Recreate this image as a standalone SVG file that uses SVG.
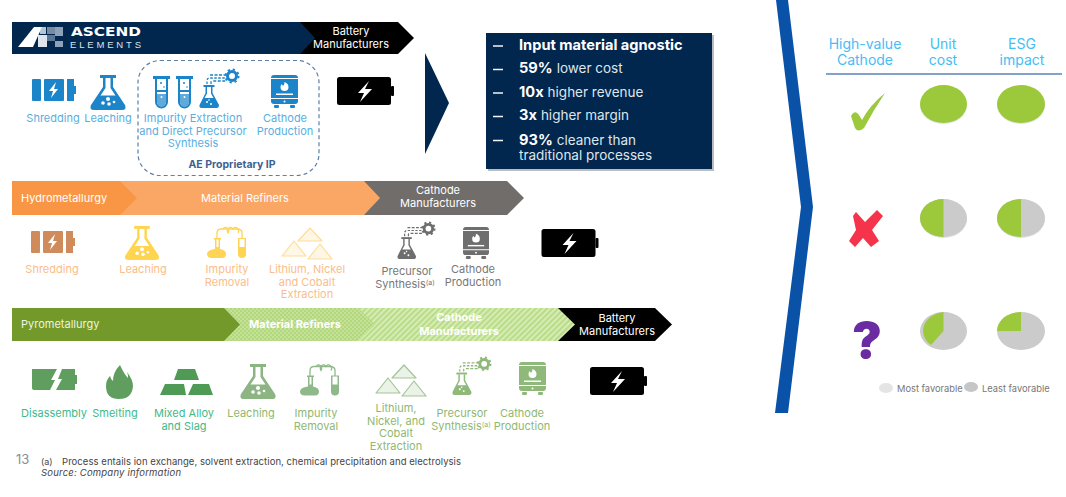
<svg xmlns="http://www.w3.org/2000/svg" width="1066" height="497" viewBox="0 0 1066 497">
<style>
text{font-family:Inter,"Open Sans","Liberation Sans",sans-serif}
.m{text-anchor:middle}
.l{font-size:11px}
.b{fill:#5aaee0}.o{fill:#fbbd8a}.g{fill:#777}.n{fill:#3fb98a}.nb{fill:#8fb870}.w{fill:#fff}
.bt{font-size:11px;fill:#fff;text-anchor:middle}
.k{font-size:14.600px;font-weight:700;fill:#fff}
.t{font-size:13.500px;fill:#dfe5ec}
.h{font-size:14px;fill:#45bdf5;text-anchor:middle}
.d{stroke:#fff;stroke-width:1.6}
.sh{fill:#e2e2e2}.gy{fill:#cbcbcb}.gr{fill:#9bc93b}
</style>
<defs>
<pattern id="dots" width="4" height="4" patternUnits="userSpaceOnUse"><rect width="4" height="4" fill="#b3d87c"/><circle cx="1" cy="1" r=".8" fill="#d9edbb"/><circle cx="3" cy="3" r=".8" fill="#d9edbb"/></pattern>
<pattern id="hatch" width="4" height="4" patternUnits="userSpaceOnUse" patternTransform="rotate(45)"><rect width="4" height="4" fill="#d6ecb4"/><rect width="2" height="4" fill="#b9dc88"/></pattern>
<symbol id="shred" viewBox="0 0 44 22" overflow="visible"><rect x="0" y="0" width="9" height="22" rx="1"/><rect x="12" y="0" width="20" height="22" rx="1"/><path d="M35 0h7v7h2v8h-2v7h-7z"/><path d="M24 3l-7 9h4l-2 7 7-9h-4z" fill="#fff"/></symbol>
<symbol id="flask" viewBox="0 0 36 35" overflow="visible"><rect x="10" y="0" width="16" height="3"/><path d="M13 3h10v9l12 18q2 5-3 5H4q-5 0-3-5l12-18z"/><path d="M15.500 3h5v10l5 7.500H10.500l5-7.500z" fill="#fff"/><circle cx="18" cy="24" r="2" fill="#fff"/><circle cx="13" cy="28" r="1.800" fill="#fff"/><circle cx="19" cy="29" r="1.800" fill="#fff"/><circle cx="24" cy="27" r="1.300" fill="#fff"/></symbol>
<symbol id="tube" viewBox="0 0 17 34" overflow="visible"><rect width="17" height="3"/><path d="M2 3h13v23a6.500 6.500 0 0 1-13 0zM4 3v11h9V3zM4 16v10a4.500 4.500 0 0 0 9 0V16z" fill-rule="evenodd"/><path d="M4 18h9v8a4.500 4.500 0 0 1-9 0z" fill-opacity=".7"/><circle cx="8" cy="7" r="1"/><circle cx="11" cy="11" r=".8"/><circle cx="8.500" cy="21" r="1" fill="#fff"/></symbol>
<symbol id="prec" viewBox="0 0 41 40" overflow="visible"><g fill="none" stroke="currentColor"><path d="M8 16v-3q0-3 3-3h16" stroke-dasharray="2.500 1.500" stroke-width="1.300"/><path d="M12 16v-2q0-1 2-1h13M11 7h16" stroke-dasharray="3 1.500" stroke-width="1.300"/><circle cx="33" cy="8" r="4.500" stroke-width="3"/><circle cx="33" cy="8" r="6.500" stroke-width="2" stroke-dasharray="2.200 2.900"/></g><rect x="4.500" y="17" width="11" height="2"/><path d="M6.500 19h7v6l6.500 12q0 3-2.500 3H2.500Q0 40 .5 37L6.500 25z"/><path d="M8 19h4v6.500l2.500 4.500h-9L8 25.500z" fill="#fff"/><circle cx="8" cy="34" r="1" fill="#fff"/><circle cx="12" cy="36" r="1" fill="#fff"/><circle cx="10" cy="32" r=".8" fill="#fff"/></symbol>
<symbol id="furn" viewBox="0 0 27 33" overflow="visible"><rect x="0" y="0" width="27" height="29" rx="3"/><rect x="3" y="30" width="5" height="3" rx="1"/><rect x="19" y="30" width="5" height="3" rx="1"/><rect x="0" y="3" width="27" height="1" fill="#fff"/><rect x="0" y="23" width="27" height="1" fill="#fff"/><rect x="5" y="18.500" width="17" height="1.500" fill="#fff"/><path d="M13.500 7q4 1.500 4 5a4 4 0 0 1-8 0q0-2 1.500-3 0 2 1.500 1.500 1-1.500 1-3.500z" fill="#fff"/><circle cx="13.500" cy="26.500" r="1" fill="#fff"/></symbol>
<symbol id="batt" viewBox="0 0 57 28" overflow="visible"><rect width="54" height="28" rx="2.500"/><rect x="54" y="9" width="3" height="10" rx="1"/><path d="M32 4L21 16h6l-4 9 12-13h-7z" fill="#fff"/></symbol>
<symbol id="impur" viewBox="0 0 41 32" overflow="visible"><g fill="none" stroke="currentColor" stroke-width="1.300"><path d="M10 12V6q0-4 4-4h16q5 0 5 4v6"/><path d="M16 2a2.500 3 0 0 1 5 4a2.500 3 0 0 1 5-4a2.500 3 0 0 1 5 4"/></g><rect x="7" y="11" width="7" height="1.500"/><path d="M8 12h5v10q6 1 6 5 0 4-4 4H5q-5 0-5-4 0-4 8-5z"/><path d="M9.500 12.500h2V20H9.500z" fill="#fff"/><path d="M31 11h8v16a4 4 0 0 1-8 0z"/><rect x="32.500" y="12" width="5" height="8" fill="#fff"/></symbol>
<symbol id="piles" viewBox="0 0 52 33" overflow="visible"><g fill-opacity=".22" stroke="currentColor" stroke-width="1.200" stroke-linejoin="round"><path d="M29 1l12 13H17z"/><path d="M13 14l12 15H1z"/><path d="M39 17l12 15H27z"/></g></symbol>
</defs>

<g id="band-ascend">
<path d="M300 22H398L414 38 398 54H300z" fill="#000"/>
<path d="M12 22H300L315 38 300 54H12z" fill="#01274f"/>
<text class="bt" x="351" y="35">Battery</text><text class="bt" x="351" y="48">Manufacturers</text>
<g id="logo"><path d="M18 47L34 27H42L33 47z" fill="#fff"/><rect x="40" y="27" width="6" height="7" fill="#e8edf2" fill-opacity=".8"/><rect x="47" y="27" width="8" height="7" fill="#a9b8c8" fill-opacity=".7"/><rect x="55" y="27" width="8" height="9" fill="#8da2b8"/><rect x="38" y="35" width="9" height="12" fill="#dfe5ec"/><rect x="47" y="35" width="8" height="6" fill="#5d7792"/><rect x="55" y="41" width="8" height="6" fill="#8da2b8"/>
<text x="71" y="35.500" font-size="12.500" font-weight="700" fill="#fff" style="font-family:'DejaVu Sans',sans-serif" textLength="70" lengthAdjust="spacingAndGlyphs">ASCEND</text>
<text x="70" y="47.500" font-size="9.500" fill="#dbe3ea" style="font-family:'Liberation Sans',sans-serif" textLength="71" lengthAdjust="spacing">ELEMENTS</text></g>
</g>

<g id="big-arrow"><path d="M425 53L449 103 425 154z" fill="#01274f"/></g>

<g id="proprietary"><rect x="138" y="60.500" width="181" height="115" rx="22" fill="none" stroke="#5d7fa8" stroke-width="1.200" stroke-dasharray="4 3"/><text x="232" y="168" class="m" font-size="10.500" font-weight="700" fill="#3f5f92">AE Proprietary IP</text></g>

<g id="r1-shredding" fill="#1c84c8"><use href="#shred" x="32" y="79" width="44" height="22"/><text class="l m b" x="53" y="122">Shredding</text></g>
<g id="r1-leaching" fill="#1c84c8"><use href="#flask" x="90" y="75" width="36" height="35"/><text class="l m b" x="108" y="122">Leaching</text></g>
<g id="r1-impurity" fill="#1c84c8" color="#1c84c8"><use href="#tube" x="153" y="76" width="17" height="34"/><use href="#tube" x="176" y="76" width="17" height="34"/><use href="#prec" x="199" y="68" width="41" height="40"/>
<text class="l m b" x="193" y="122">Impurity Extraction</text><text class="l m b" x="193" y="134.500">and Direct Precursor</text><text class="l m b" x="193" y="147">Synthesis</text></g>
<g id="r1-cathode" fill="#1c84c8"><use href="#furn" x="271" y="75" width="27" height="33"/><text class="l m b" x="285" y="122">Cathode</text><text class="l m b" x="285" y="134.500">Production</text></g>
<g id="r1-battery"><use href="#batt" x="337" y="77" width="57" height="28"/></g>

<g id="benefits"><rect x="488" y="35" width="226" height="136" fill="#8a8f96" fill-opacity=".6"/><rect x="486" y="33" width="226" height="136" fill="#01274f"/>
<path class="d" d="M493 46H503M493 69.500H503M493 93H503M493 116.500H503M493 140.500H503" opacity=".95"/>
<text x="519" y="50" class="k">Input material agnostic</text>
<text x="519" y="73"><tspan class="k" font-size="15">59%</tspan><tspan class="t" dx="4">lower cost</tspan></text>
<text x="519" y="97"><tspan class="k" font-size="15">10x</tspan><tspan class="t" dx="4">higher revenue</tspan></text>
<text x="519" y="120"><tspan class="k" font-size="15">3x</tspan><tspan class="t" dx="4">higher margin</tspan></text>
<text x="519" y="145"><tspan class="k" font-size="15">93%</tspan><tspan class="t" dx="4">cleaner than</tspan></text>
<text x="519" y="160" class="t">traditional processes</text></g>

<g id="band-hydro">
<path d="M364 181H507L524 198 507 215H364z" fill="#716d6b"/>
<path d="M120 181H364L380 198 364 215H120z" fill="#faa665"/>
<path d="M12 181H120L137 198 120 215H12z" fill="#f99645"/>
<text x="21" y="202" font-size="11" fill="#fff">Hydrometallurgy</text>
<text class="bt" x="245" y="202">Material Refiners</text>
<text class="bt" x="438" y="194">Cathode</text><text class="bt" x="438" y="207">Manufacturers</text>
</g>
<g id="r2-shredding" fill="#d08b5c"><use href="#shred" x="31" y="231" width="44" height="22"/><text class="l m o" x="52" y="273">Shredding</text></g>
<g id="r2-leaching" fill="#ffd54f"><use href="#flask" x="124" y="226" width="36" height="34"/><text class="l m o" x="143" y="273">Leaching</text></g>
<g id="r2-impurity" fill="#ffd454" color="#ffd454"><use href="#impur" x="207" y="227" width="41" height="32"/><text class="l m o" x="227" y="273">Impurity</text><text class="l m o" x="227" y="286">Removal</text></g>
<g id="r2-extraction" fill="#ffd98a" color="#ffdd99"><use href="#piles" x="281" y="227" width="52" height="33"/><text class="l m o" x="307" y="273">Lithium, Nickel</text><text class="l m o" x="307" y="286">and Cobalt</text><text class="l m o" x="307" y="298">Extraction</text></g>
<g id="r2-precursor" fill="#6e6e6e" color="#6e6e6e"><use href="#prec" x="396" y="221" width="41" height="38"/><text class="l m g" x="407" y="275">Precursor</text><text class="l m g" x="405" y="288">Synthesis<tspan font-size="7" dy="-3">(a)</tspan></text></g>
<g id="r2-cathode" fill="#6e6e6e"><use href="#furn" x="463" y="226" width="26" height="34"/><text class="l m g" x="473" y="273">Cathode</text><text class="l m g" x="473" y="286">Production</text></g>
<g id="r2-battery"><use href="#batt" x="541" y="229" width="58" height="28"/></g>

<g id="band-pyro">
<path d="M558 308H655L672 324.500 655 341H558z" fill="#000"/>
<path d="M358 308H558L575 324.500 558 341H358z" fill="url(#hatch)"/>
<path d="M224 308H358L375 324.500 358 341H224z" fill="url(#dots)"/>
<path d="M12 308H224L240 324.500 224 341H12z" fill="#72992a"/>
<text x="21" y="328" font-size="11" fill="#eef4df">Pyrometallurgy</text>
<text class="bt" x="295" y="328" font-weight="700">Material Refiners</text>
<text class="bt" x="459" y="321" font-weight="700">Cathode</text><text class="bt" x="459" y="335" font-weight="700">Manufacturers</text>
<text class="bt" x="617" y="322">Battery</text><text class="bt" x="617" y="335">Manufacturers</text>
</g>
<g id="r3-disassembly" fill="#5f9e5e"><path d="M32 369H57L51 380H55L50 390H34Q32 390 32 388zM62 369H75V375H77V384H75V390H56L62 379H58z"/><text class="l m n" x="54" y="417">Disassembly</text></g>
<g id="r3-smelting" fill="#5f9e5e"><path d="M120 365Q124 374 128 378 128 374 127 372 133 380 133 386 132 399 119 399 106 399 106 386 106 380 110 376 111 380 113 381 113 372 120 365z"/><text class="l m n" x="115" y="417">Smelting</text></g>
<g id="r3-slag" fill="#4f9a55"><path d="M178 369H195L199 380H174zM165 384H184L186 395H160zM193 384H209L213 395H188z"/><text class="l m n" x="184" y="417">Mixed Alloy</text><text class="l m n" x="184" y="430">and Slag</text></g>
<g id="r3-leaching" fill="#8cb583"><use href="#flask" x="240" y="364" width="36" height="35"/><text class="l m nb" x="251" y="417">Leaching</text></g>
<g id="r3-impurity" fill="#8fb98a" color="#8fb98a"><use href="#impur" x="300" y="364" width="41" height="33"/><text class="l m nb" x="316" y="417">Impurity</text><text class="l m nb" x="316" y="430">Removal</text></g>
<g id="r3-extraction" fill="#a3c496" color="#a3c496"><use href="#piles" x="375" y="364" width="52" height="33"/><text class="l m nb" x="396" y="412">Lithium,</text><text class="l m nb" x="396" y="425">Nickel, and</text><text class="l m nb" x="396" y="437">Cobalt</text><text class="l m nb" x="396" y="450">Extraction</text></g>
<g id="r3-precursor" fill="#8fb97a" color="#8fb97a"><use href="#prec" x="452" y="356" width="40" height="39"/><text class="l m nb" x="462" y="417">Precursor</text><text class="l m nb" x="461" y="430">Synthesis<tspan font-size="7" dy="-3">(a)</tspan></text></g>
<g id="r3-cathode" fill="#8fb97a"><use href="#furn" x="519" y="362" width="27" height="33"/><text class="l m nb" x="522" y="417">Cathode</text><text class="l m nb" x="522" y="430">Production</text></g>
<g id="r3-battery"><use href="#batt" x="590" y="367" width="57" height="28"/></g>

<g id="footer"><text x="16" y="464" font-size="13" fill="#8a8f96">13</text>
<text x="41" y="465" font-size="9" fill="#444">(a)</text><text x="62" y="465" font-size="9.500" fill="#444" textLength="399" lengthAdjust="spacing">Process entails ion exchange, solvent extraction, chemical precipitation and electrolysis</text>
<text x="41" y="476" font-size="9.500" font-style="italic" fill="#444" textLength="140" lengthAdjust="spacing">Source: Company information</text></g>

<g id="divider"><path d="M776 0H788L813 207 788 413H775L801 207z" fill="#0a52a8"/></g>

<g id="table-head"><text class="h" x="865" y="49">High-value</text><text class="h" x="865" y="65">Cathode</text><text class="h" x="943" y="49">Unit</text><text class="h" x="943" y="65">cost</text><text class="h" x="1022" y="49">ESG</text><text class="h" x="1022" y="65">impact</text><path d="M826 74H1062" stroke="#5b82b8" stroke-width="1.500"/></g>

<g id="row-1"><path d="M851 116Q855 109 859 115L862 120Q870 105 885 93 873 111 864 128 858 133 855 128z" class="gr"/>
<ellipse class="sh" cx="943.500" cy="105" rx="23.500" ry="19"/><ellipse class="gr" cx="943.500" cy="104" rx="23.500" ry="19"/>
<ellipse class="sh" cx="1021" cy="105" rx="24" ry="19"/><ellipse class="gr" cx="1021" cy="104" rx="24" ry="19"/></g>

<g id="row-2"><path d="M856 212L865 222 877 210 883 216 872 230 879 241 871 247 863 238 855 247 849 241 856 230 853 216z" fill="#f5334a"/>
<ellipse class="sh" cx="943.500" cy="219" rx="23.500" ry="19"/><ellipse class="gy" cx="943.500" cy="218" rx="23.500" ry="19"/><path class="gr" d="M943.500 199A23.500 19 0 0 0 943.500 237z"/>
<ellipse class="sh" cx="1021" cy="219" rx="24" ry="19"/><ellipse class="gy" cx="1021" cy="218" rx="24" ry="19"/><path class="gr" d="M1021 199A24 19 0 0 0 1021 237z"/></g>

<g id="row-3"><text x="867" y="358" class="m" font-size="50" font-weight="900" fill="#6a2ca0">?</text>
<ellipse class="gy" cx="943.500" cy="331" rx="23.500" ry="19"/><path class="gr" d="M943.500 312A23.500 19 0 0 0 931 345L943.500 331z"/>
<ellipse class="gy" cx="1021" cy="331" rx="24" ry="19"/><path class="gr" d="M1021 312A24 19 0 0 0 997 331H1021z"/></g>

<g id="legend"><ellipse cx="886" cy="388" rx="7" ry="5" fill="#e4e4e4"/><text x="897" y="392" font-size="9.300" fill="#777">Most favorable</text><ellipse cx="971" cy="387" rx="7" ry="5" fill="#c6c6c6"/><text x="982" y="392" font-size="9.300" fill="#777">Least favorable</text></g>
</svg>
